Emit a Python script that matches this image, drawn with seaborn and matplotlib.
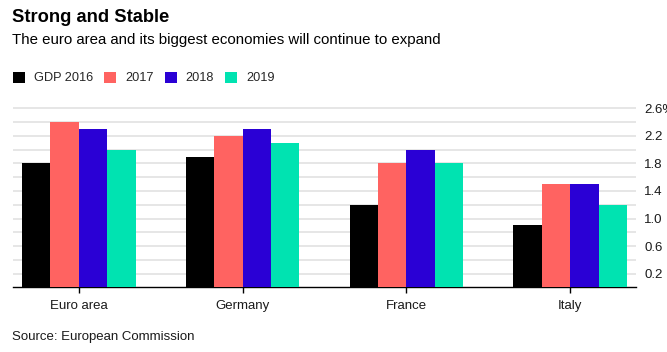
import matplotlib
matplotlib.use("Agg")
import matplotlib.pyplot as plt
import seaborn as sns
import pandas as pd
from matplotlib.patches import Patch

regions = ["Euro area", "Germany", "France", "Italy"]
years = ["GDP 2016", "2017", "2018", "2019"]
gdp_2016 = [1.8, 1.9, 1.2, 0.9]
gdp_2017 = [2.4, 2.2, 1.8, 1.5]
gdp_2018 = [2.3, 2.3, 2.0, 1.5]
gdp_2019 = [2.0, 2.1, 1.8, 1.2]
ytick_vals = [0.2, 0.4, 0.6, 0.8, 1.0, 1.2, 1.4, 1.6, 1.8, 2.0, 2.2, 2.4, 2.6]
ytick_labels = ["0.2", "", "0.6", "", "1.0", "", "1.4", "", "1.8", "", "2.2", "", "2.6%"]
colors = ["#000000", "#ff6361", "#2a00d5", "#00e3b1"]

series = [gdp_2016, gdp_2017, gdp_2018, gdp_2019]
rows = []
for y, vals in zip(years, series):
    for r, v in zip(regions, vals):
        rows.append({"region": r, "year": y, "value": v})
df = pd.DataFrame(rows)

sns.set_theme(style="white")
plt.rcParams["font.family"] = ["Liberation Sans", "DejaVu Sans"]

fig = plt.figure(figsize=(6.67, 3.52), dpi=100)
ax = fig.add_axes([13/667, 1 - 287.3/352, (636 - 13)/667, 182.3/352])

sns.barplot(data=df, x="region", y="value", hue="year", palette=colors,
            hue_order=years, order=regions, width=0.695, saturation=1,
            ax=ax, legend=False, linewidth=0, zorder=3)

ax.set_xlim(-0.4, 3.4)
ax.set_ylim(0, 2.65)
ax.set_yticks(ytick_vals)
ax.set_yticklabels(ytick_labels)
ax.yaxis.tick_right()
ax.tick_params(axis="y", length=0, pad=6, labelsize=9.5, colors="#1a1a1a")
ax.tick_params(axis="x", length=4, width=1, color="black", pad=5, labelsize=9.5,
               labelcolor="#1a1a1a", bottom=True)
ax.grid(axis="y", color="#e2e2e2", linewidth=1.2, zorder=0)
ax.set_axisbelow(True)
for s in ["top", "right", "left"]:
    ax.spines[s].set_visible(False)
ax.spines["bottom"].set_color("black")
ax.spines["bottom"].set_linewidth(1)
ax.set_xlabel("")
ax.set_ylabel("")

fig.text(12/667, 1 - 17/352, "Strong and Stable", fontsize=13.2, fontweight="bold",
         va="center", ha="left", color="black")
fig.text(12/667, 1 - 40/352, "The euro area and its biggest economies will continue to expand",
         fontsize=10.8, va="center", ha="left", color="black")
fig.text(12/667, 1 - 337/352, "Source: European Commission", fontsize=9.5,
         va="center", ha="left", color="#1a1a1a")

handles = [Patch(facecolor=c, edgecolor="none") for c in colors]
fig.legend(handles, years, loc="center left", bbox_to_anchor=(13/667, 1 - 78/352),
           ncol=4, frameon=False, fontsize=9.2, handlelength=0.95, handleheight=0.95,
           handletextpad=0.7, columnspacing=0.85, borderaxespad=0, borderpad=0)

fig.savefig("out.png", dpi=100)
